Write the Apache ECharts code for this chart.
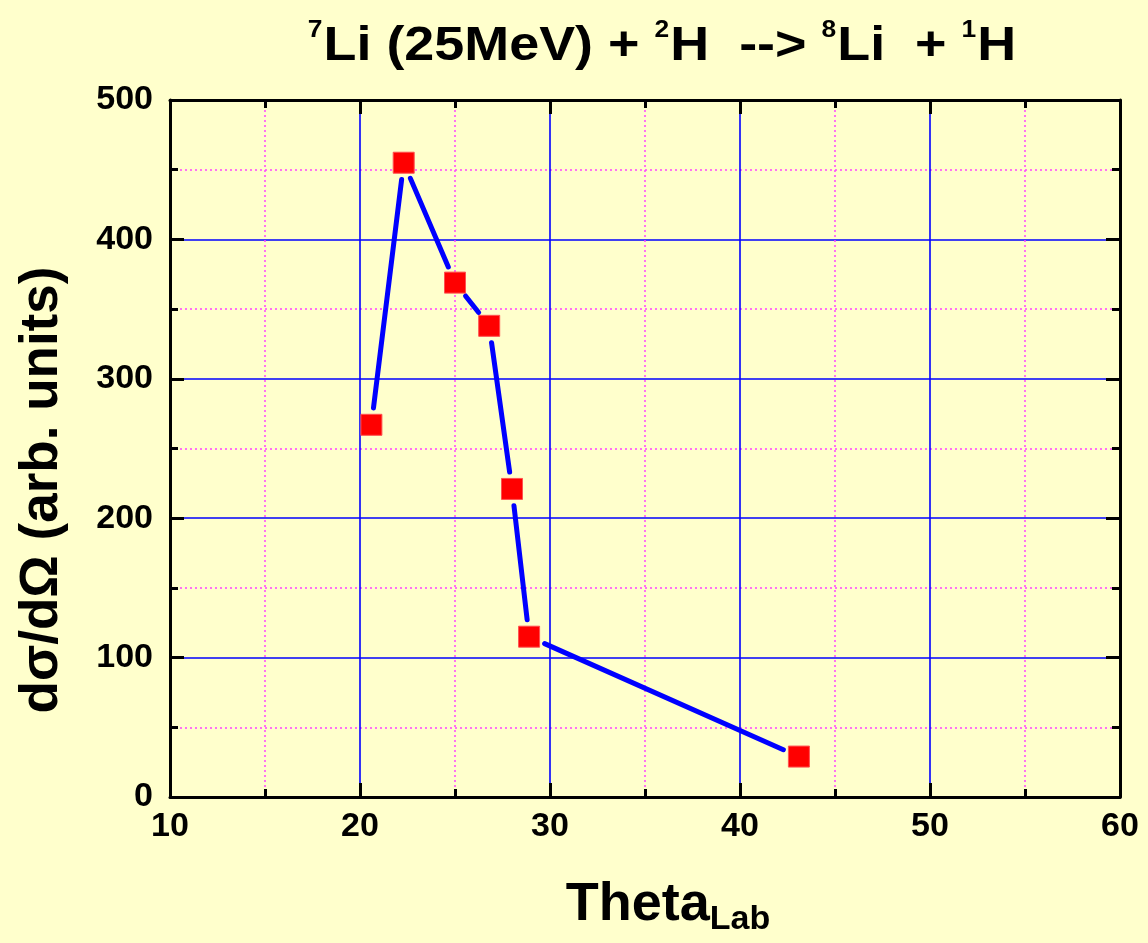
<!DOCTYPE html>
<html>
<head>
<meta charset="utf-8">
<script src="https://cdn.jsdelivr.net/npm/echarts@6/dist/echarts.min.js"></script>
<style>
  html, body { margin: 0; padding: 0; background: #FFFFCC; }
  #chart { width: 1148px; height: 943px; }
</style>
</head>
<body>
<div id="chart"></div>
<script>
// Measured lab angles (deg) and cross sections (arb. units)
const thetaLab = [20.6, 22.3, 25.0, 26.8, 28.0, 28.9, 43.1];
const crossSection = [267, 455, 369, 338, 221, 115, 29];

// Axis ranges / tick steps
const xRange = [10, 60];
const xStep = 10;
const yRange = [0, 500];
const yStep = 100;

const BG = '#FFFFCC';
const AXIS_FONT = 'Liberation Sans, Arial, sans-serif';

const points = thetaLab.map((t, i) => [t, crossSection[i]]);
// line segments between consecutive points
const segments = [];
for (let i = 0; i < points.length - 1; i++) {
  segments.push([points[i][0], points[i][1], points[i + 1][0], points[i + 1][1]]);
}

const chart = echarts.init(document.getElementById('chart'));

function boxAxis(pos, withLabels, range, step) {
  return {
    type: 'value',
    position: pos,
    min: range[0],
    max: range[1],
    interval: step,
    axisLine: { show: true, onZero: false, lineStyle: { color: '#000', width: 3 } },
    axisTick: { show: true, inside: true, length: 14, lineStyle: { color: '#000', width: 3 } },
    minorTick: { show: true, splitNumber: 2, length: 8, lineStyle: { color: '#000', width: 3 } },
    axisLabel: withLabels ? {
      show: true, color: '#000', fontSize: 34, fontWeight: 'bold', fontFamily: AXIS_FONT,
      margin: (pos === 'bottom' ? 13 : 17)
    } : { show: false },
    splitLine: withLabels ? {
      show: true, showMinLine: false, showMaxLine: false,
      lineStyle: { color: '#0000FF', width: 1.6 }
    } : { show: false },
    minorSplitLine: withLabels ? {
      show: true, lineStyle: { color: '#FF44FF', width: 1.5, type: [2, 3] }
    } : { show: false }
  };
}

const option = {
  backgroundColor: BG,
  animation: false,
  grid: { left: 170, right: 28, top: 100, bottom: 146, containLabel: false },
  xAxis: [
    boxAxis('bottom', true, xRange, xStep),
    boxAxis('top', false, xRange, xStep)
  ],
  yAxis: [
    boxAxis('left', true, yRange, yStep),
    boxAxis('right', false, yRange, yStep)
  ],
  graphic: [
    {
      type: 'text', x: 662, y: 46, z: 10, scaleX: 1.1,
      style: {
        text: '{s|7}{m|Li (25MeV) + }{s|2}{m|H  --> }{s|8}{m|Li  + }{s|1}{m|H}',
        align: 'center', verticalAlign: 'middle',
        rich: {
          m: { fontSize: 49, fontWeight: 'bold', fontFamily: AXIS_FONT, fill: '#000', lineHeight: 60 },
          s: { fontSize: 24, fontWeight: 'bold', fontFamily: AXIS_FONT, fill: '#000', lineHeight: 60, verticalAlign: 'top', padding: [2, 1, 0, 0] }
        }
      }
    },
    {
      type: 'text', x: 668, y: 905, z: 10,
      style: {
        text: '{a|Theta}{b|Lab}',
        align: 'center', verticalAlign: 'middle',
        rich: {
          a: { fontSize: 54, fontWeight: 'bold', fontFamily: AXIS_FONT, fill: '#000', lineHeight: 64 },
          b: { fontSize: 34, fontWeight: 'bold', fontFamily: AXIS_FONT, fill: '#000', lineHeight: 64, verticalAlign: 'bottom' }
        }
      }
    },
    {
      type: 'text', x: 42, y: 490, rotation: Math.PI / 2, z: 10,
      style: {
        text: 'dσ/dΩ (arb. units)',
        align: 'center', verticalAlign: 'middle',
        font: 'bold 53px Liberation Sans, Arial, sans-serif',
        fill: '#000'
      }
    }
  ],
  series: [
    {
      type: 'custom',
      name: 'connect',
      data: segments,
      encode: { x: [0, 2], y: [1, 3] },
      clip: false,
      z: 3,
      renderItem: function (params, api) {
        const a = api.coord([api.value(0), api.value(1)]);
        const b = api.coord([api.value(2), api.value(3)]);
        const dx = b[0] - a[0], dy = b[1] - a[1];
        const len = Math.sqrt(dx * dx + dy * dy);
        const gap = 17;
        const ux = dx / len, uy = dy / len;
        return {
          type: 'line',
          shape: {
            x1: a[0] + ux * gap, y1: a[1] + uy * gap,
            x2: b[0] - ux * gap, y2: b[1] - uy * gap
          },
          style: { stroke: '#0000FF', lineWidth: 5, lineCap: 'round' }
        };
      }
    },
    {
      type: 'scatter',
      name: 'data',
      data: points,
      symbol: 'rect',
      symbolSize: 21,
      z: 4,
      itemStyle: { color: '#FF0000', borderColor: '#FF5050', borderWidth: 1, opacity: 1 }
    }
  ]
};

chart.setOption(option);
</script>
</body>
</html>
